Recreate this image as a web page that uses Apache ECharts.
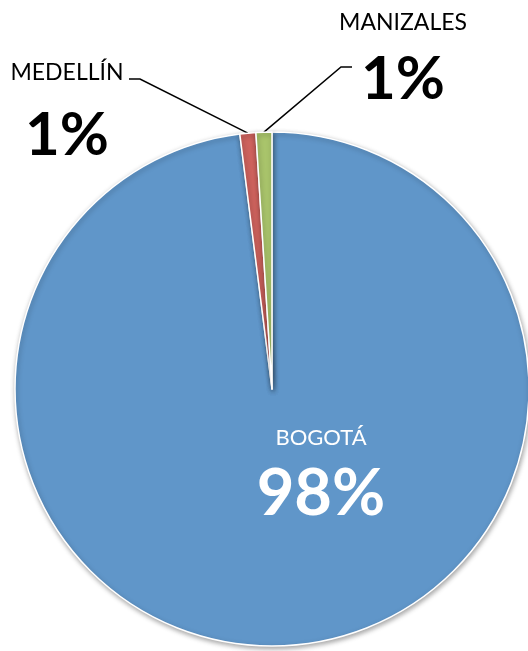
<!DOCTYPE html>
<html><head><meta charset="utf-8">
<script src="https://cdn.jsdelivr.net/npm/echarts@6/dist/echarts.min.js"></script>
<style>html,body{margin:0;padding:0;background:#fff}#c{width:528px;height:651px}</style>
</head><body><div id="c"></div>
<script>
const categories = ['Bogotá', 'Medellín', 'Manizales'];
const values = [98, 1, 1];
const colors = ['#6096C9', '#CD625D', '#A9C46B'];

const FONT = 'Lato, "Open Sans", sans-serif';
const labelStyles = [
  { color: '#fff', n: 22, nlh: 24, p: 65, plh: 88 },
  { color: '#000', n: 23, nlh: 26, p: 60, plh: 100 },
  { color: '#000', n: 23, nlh: 26, p: 60, plh: 87 }
];
const labelAnchors = [
  { x: 321, y: 426, line: null },
  { x: 67, y: 60, line: [[140, 79], [129, 79]] },
  { x: 403, y: 10, line: [[341, 67], [352, 67]] }
];

const data = categories.map((name, i) => {
  const s = labelStyles[i];
  return {
    name: name,
    value: values[i],
    itemStyle: { color: colors[i] },
    label: {
      position: i === 0 ? 'inside' : 'outside',
      rich: {
        n: { fontFamily: FONT, fontSize: s.n, lineHeight: s.nlh, color: s.color, align: 'center' },
        p: { fontFamily: FONT, fontSize: s.p, lineHeight: s.plh, fontWeight: 'bold', color: s.color, align: 'center' }
      }
    },
    labelLine: { show: i !== 0 }
  };
});

const chart = echarts.init(document.getElementById('c'), null, { renderer: 'canvas' });
chart.setOption({
  animation: false,
  backgroundColor: '#fff',
  series: [{
    type: 'pie',
    center: [272, 389],
    radius: 257,
    startAngle: 90,
    clockwise: true,
    avoidLabelOverlap: false,
    data: data,
    itemStyle: {
      borderColor: '#fff',
      borderWidth: 1.5,
      shadowBlur: 5,
      shadowColor: 'rgba(0,0,0,0.35)',
      shadowOffsetX: 1,
      shadowOffsetY: 2
    },
    label: {
      show: true,
      formatter: p => '{n|' + p.name.toUpperCase() + '}\n{p|' + Math.round(p.percent) + '%}'
    },
    labelLine: {
      lineStyle: { color: '#000', width: 1.5 }
    },
    labelLayout: function (params) {
      const a = labelAnchors[params.dataIndex];
      const res = { x: a.x, y: a.y, align: 'center', verticalAlign: 'top' };
      if (a.line && params.labelLinePoints) {
        res.labelLinePoints = [params.labelLinePoints[0], a.line[0], a.line[1]];
      }
      return res;
    }
  }]
});
</script></body></html>
